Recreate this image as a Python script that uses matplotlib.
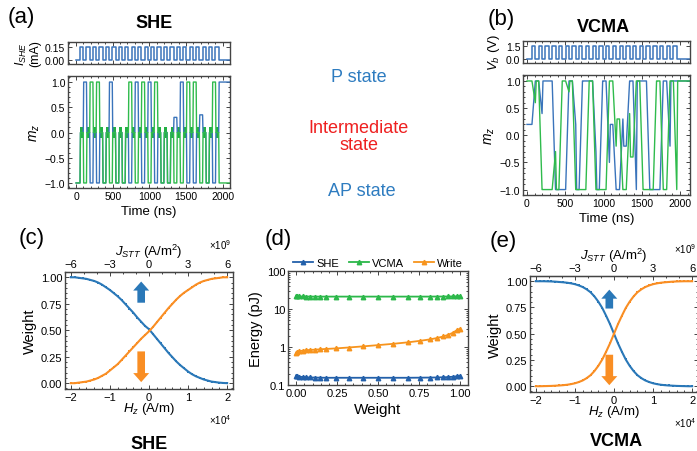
import numpy as np
import matplotlib.pyplot as plt
from matplotlib.patches import FancyArrowPatch
from matplotlib.ticker import AutoMinorLocator, LogLocator, NullFormatter

plt.rcParams['font.family'] = ['Liberation Sans', 'DejaVu Sans']
plt.rcParams['mathtext.fontset'] = 'custom'
plt.rcParams['mathtext.rm'] = 'Liberation Sans'
plt.rcParams['mathtext.it'] = 'Liberation Sans:italic'
plt.rcParams['mathtext.bf'] = 'Liberation Sans:bold'

# ---- (a) SHE pulse train and m_z traces ----
she_pulse_start = 54
she_pulse_period = 88
she_pulse_width = 44
she_pulse_amp = 0.15
she_pulse_count = 22
she_start_blue = -1.0
she_start_green = -1.0
# relaxed m_z after each pulse (during the pulse both sit near 0)
she_blue_after = [1, -1, -1, -1, 1, -1, -1, -1, 1, -1, 1, -1, -1, -1, 0.3, 1, -1, -1, 0.35,
                  -1, -1, 1]
she_green_after = [-1, 1, 1, -1, -1, -1, -1, 1, -1, 1, -1, 1, -1, -1, -1, -1, 1, 1, -1, -1,
                   1, -1]

# ---- (b) VCMA pulse train and m_z traces ----
vcma_pulse_start = 65
vcma_pulse_period = 88
vcma_pulse_width = 44
vcma_pulse_amp = 1.5
vcma_pulse_count = 22
vcma_start_blue = 0.2
vcma_start_green = 1.0
# m_z at the end of each pulse, then after relaxation
vcma_blue_on = [1, 0.4, 1, -1, -1, 1, 0.2, 1, 1, -0.3, 1, -0.5, -1, 0.3, 1, -1, 1, -1, -1, 1,
                -0.2, 1]
vcma_blue_off = [1, 1, 1, -1, -1, 1, -1, 1, 1, -1, 1, 0.2, -1, -0.2, 1, 1, 1, -1, -1, 1, 1, 1]
vcma_green_on = [0.6, -1, -1, -0.3, 1, 0.8, -1, -1, 1, -1, -1, 1, -0.2, -1, 0.4, 1, -1, -1, 1,
                 -1, 1, -1]
vcma_green_off = [1, -1, -1, -1, 1, 1, -1, -1, 1, -1, -1, 1, 0.3, -1, -0.4, 1, -1, -1, 1, -1,
                  1, 1]

# ---- (c)/(e) weight vs field ----
hz = [-2.0, -1.9, -1.8, -1.7, -1.6, -1.5, -1.4, -1.3, -1.2, -1.1, -1.0, -0.9, -0.8, -0.7,
      -0.6, -0.5, -0.4, -0.3, -0.2, -0.1, 0.0, 0.1, 0.2, 0.3, 0.4, 0.5, 0.6, 0.7, 0.8,
      0.9, 1.0, 1.1, 1.2, 1.3, 1.4, 1.5, 1.6, 1.7, 1.8, 1.9, 2.0]
she_w_up = [1.0, 1.0, 0.995, 0.99, 0.985, 0.975, 0.965, 0.95, 0.93, 0.905, 0.88, 0.85, 0.82,
            0.785, 0.745, 0.705, 0.665, 0.62, 0.58, 0.54, 0.51, 0.465, 0.42, 0.375, 0.33,
            0.285, 0.245, 0.205, 0.17, 0.14, 0.11, 0.085, 0.065, 0.05, 0.035, 0.025, 0.015,
            0.01, 0.005, 0.002, 0.0]
she_w_down = [0.0, 0.0, 0.005, 0.01, 0.015, 0.025, 0.035, 0.05, 0.07, 0.09, 0.12, 0.15, 0.18,
              0.22, 0.26, 0.30, 0.34, 0.38, 0.42, 0.455, 0.49, 0.53, 0.575, 0.62, 0.665, 0.71,
              0.75, 0.79, 0.825, 0.855, 0.88, 0.905, 0.93, 0.95, 0.965, 0.975, 0.985, 0.99,
              0.995, 1.0, 1.0]
vcma_w_up = [1.0, 1.0, 1.0, 0.999, 0.998, 0.996, 0.993, 0.99, 0.986, 0.98, 0.972, 0.96, 0.945,
             0.923, 0.895, 0.855, 0.805, 0.745, 0.67, 0.59, 0.5, 0.41, 0.33, 0.255, 0.195,
             0.145, 0.105, 0.077, 0.055, 0.04, 0.028, 0.02, 0.014, 0.01, 0.007, 0.005, 0.003,
             0.002, 0.001, 0.0, 0.0]
vcma_w_down = [0.0, 0.0, 0.001, 0.002, 0.003, 0.005, 0.007, 0.01, 0.014, 0.02, 0.028, 0.04,
               0.055, 0.077, 0.105, 0.145, 0.195, 0.255, 0.33, 0.41, 0.5, 0.59, 0.67, 0.745,
               0.805, 0.855, 0.895, 0.923, 0.945, 0.96, 0.972, 0.98, 0.986, 0.99, 0.993,
               0.996, 0.998, 0.999, 1.0, 1.0, 1.0]
jstt_ticks = [-6, -3, 0, 3, 6]
hz_ticks = [-2, -1, 0, 1, 2]

# ---- (d) energy vs weight ----
weight = [0.0, 0.005, 0.02, 0.04, 0.06, 0.085, 0.115, 0.145, 0.185, 0.245, 0.32, 0.41, 0.50,
          0.59, 0.685, 0.755, 0.815, 0.86, 0.90, 0.93, 0.96, 0.98, 1.0]
energy_she = [0.175, 0.17, 0.165, 0.162, 0.16, 0.158, 0.157, 0.156, 0.155, 0.155, 0.155, 0.155,
              0.155, 0.155, 0.155, 0.156, 0.157, 0.158, 0.16, 0.162, 0.165, 0.17, 0.175]
energy_vcma = [21.8, 21.6, 21.5, 21.4, 21.3, 21.3, 21.2, 21.2, 21.2, 21.2, 21.2, 21.2, 21.2,
               21.2, 21.2, 21.2, 21.2, 21.3, 21.3, 21.4, 21.5, 21.6, 21.8]
energy_write = [0.68, 0.74, 0.78, 0.80, 0.82, 0.84, 0.85, 0.87, 0.89, 0.92, 0.97, 1.04, 1.12,
                1.21, 1.33, 1.45, 1.58, 1.72, 1.9, 2.1, 2.4, 2.75, 3.0]

BLUE = '#3a74bb'
GREEN = '#2fbb4c'
C_UP = '#2a78b8'
C_DOWN = '#f98e24'
SPINE = '#444444'

W, H = 697, 452
fig = plt.figure(figsize=(W / 100, H / 100), dpi=100)


def add_ax(l, t, r, b):
    return fig.add_axes([l / W, 1 - b / H, (r - l) / W, (b - t) / H])


def style(ax, size=7.5, top=True):
    ax.tick_params(which='both', direction='in', top=top, right=True, labelsize=size,
                   width=0.7, color=SPINE, pad=2)
    ax.tick_params(which='major', length=3)
    ax.tick_params(which='minor', length=1.6)
    for s in ax.spines.values():
        s.set_color(SPINE)
        s.set_linewidth(1.0)


def pulse_train(start, period, width, amp, count, t_end):
    t, v = [0.0], [0.0]
    for k in range(count):
        s = start + k * period
        t += [s, s, s + width, s + width]
        v += [0.0, amp, amp, 0.0]
    t.append(t_end)
    v.append(0.0)
    return t, v


def she_trace(first, after, start, period, width, t_end, ramp=6):
    t, v = [0.0], [first]
    prev = first
    for k, a in enumerate(after):
        s = start + k * period
        e = s + width
        t += [s, s + ramp, e, e + ramp]
        v += [prev, 0.0, 0.0, a]
        prev = a
    t.append(t_end)
    v.append(prev)
    return t, v


def vcma_trace(first, on, off, start, period, width, t_end, ramp=12):
    t, v = [0.0], [first]
    prev = first
    for k, (a, b) in enumerate(zip(on, off)):
        s = start + k * period
        e = s + width
        t += [s, e, e + ramp]
        v += [prev, a, b]
        prev = b
    t.append(t_end)
    v.append(prev)
    return t, v


# ================= (a) =================
ax_at = add_ax(68, 43, 230, 65)
ax_a = add_ax(68, 77, 230, 189)
tp, vp = pulse_train(she_pulse_start, she_pulse_period, she_pulse_width, she_pulse_amp,
                     she_pulse_count, 2100)
ax_at.plot(tp, vp, color=BLUE, lw=1.1)
ax_at.set_xlim(-110, 2100)
ax_at.set_ylim(-0.046, 0.208)
ax_at.set_yticks([0.0, 0.15])
ax_at.set_yticklabels(['0.00', '0.15'])
ax_at.set_xticks([0, 500, 1000, 1500, 2000])
ax_at.set_xticklabels([])
ax_at.xaxis.set_minor_locator(AutoMinorLocator(5))
style(ax_at)
ax_at.set_ylabel('$I_{SHE}$\n(mA)', fontsize=9, labelpad=3, linespacing=0.95)

tb, vb = she_trace(she_start_blue, she_blue_after, she_pulse_start, she_pulse_period,
                   she_pulse_width, 2100)
tg, vg = she_trace(she_start_green, she_green_after, she_pulse_start, she_pulse_period,
                   she_pulse_width, 2100)
ax_a.plot(tb, vb, color=BLUE, lw=1.0)
ax_a.plot(tg, vg, color=GREEN, lw=1.0)
for k in range(she_pulse_count):
    s = she_pulse_start + k * she_pulse_period
    ax_a.fill_between([s + 4, s + she_pulse_width], -0.1, 0.1, color='#22b043', lw=0)
ax_a.set_xlim(-110, 2100)
ax_a.set_ylim(-1.1, 1.12)
ax_a.set_xticks([0, 500, 1000, 1500, 2000])
ax_a.set_yticks([-1.0, -0.5, 0.0, 0.5, 1.0])
ax_a.xaxis.set_minor_locator(AutoMinorLocator(5))
ax_a.yaxis.set_minor_locator(AutoMinorLocator(5))
style(ax_a)
ax_a.set_ylabel('$m_z$', fontsize=10, labelpad=2)
ax_a.set_xlabel('Time (ns)', fontsize=9.5, labelpad=3)

fig.text(21 / W, 1 - 17 / H, '(a)', fontsize=16, ha='center', va='center')
fig.text(154 / W, 1 - 24 / H, 'SHE', fontsize=13, fontweight='bold', ha='center', va='center')

# ================= (b) =================
ax_bt = add_ax(523, 42, 690, 64)
ax_b = add_ax(523, 76, 690, 196)
tp, vp = pulse_train(vcma_pulse_start, vcma_pulse_period, vcma_pulse_width, vcma_pulse_amp,
                     vcma_pulse_count, 2150)
ax_bt.plot(tp, vp, color=BLUE, lw=1.1)
ax_bt.set_xlim(-52, 2130)
ax_bt.set_ylim(-0.45, 2.1)
ax_bt.set_yticks([0.0, 1.5])
ax_bt.set_xticks([0, 500, 1000, 1500, 2000])
ax_bt.set_xticklabels([])
ax_bt.xaxis.set_minor_locator(AutoMinorLocator(5))
style(ax_bt)
ax_bt.set_ylabel('$V_b$ (V)', fontsize=9.5, labelpad=3)

tb, vb = vcma_trace(vcma_start_blue, vcma_blue_on, vcma_blue_off, vcma_pulse_start,
                    vcma_pulse_period, vcma_pulse_width, 2150)
tg, vg = vcma_trace(vcma_start_green, vcma_green_on, vcma_green_off, vcma_pulse_start,
                    vcma_pulse_period, vcma_pulse_width, 2150)
ax_b.plot(tb, vb, color=BLUE, lw=1.0)
ax_b.plot(tg, vg, color=GREEN, lw=1.0)
ax_b.set_xlim(-52, 2130)
ax_b.set_ylim(-1.1, 1.11)
ax_b.set_xticks([0, 500, 1000, 1500, 2000])
ax_b.set_yticks([-1.0, -0.5, 0.0, 0.5, 1.0])
ax_b.xaxis.set_minor_locator(AutoMinorLocator(5))
ax_b.yaxis.set_minor_locator(AutoMinorLocator(5))
style(ax_b)
ax_b.set_ylabel('$m_z$', fontsize=10, labelpad=2)
ax_b.set_xlabel('Time (ns)', fontsize=9.5, labelpad=3)

fig.text(501 / W, 1 - 19 / H, '(b)', fontsize=16, ha='center', va='center')
fig.text(603 / W, 1 - 27 / H, 'VCMA', fontsize=13, fontweight='bold', ha='center', va='center')

# state labels between (a) and (b)
fig.text(359 / W, 1 - 78 / H, 'P state', fontsize=13, color='#2e7cc0', ha='center', va='center')
fig.text(359 / W, 1 - 137 / H, 'Intermediate\nstate', fontsize=13, color='#ee2020',
         ha='center', va='center', linespacing=1.05)
fig.text(362 / W, 1 - 192 / H, 'AP state', fontsize=13, color='#2e7cc0', ha='center', va='center')


# ================= (c) and (e) =================
def weight_panel(ax, w_up, w_down, arrow_x, up_span, down_span):
    ax.plot(hz, w_up, color=C_UP, lw=1.5, marker='s', ms=1.8, mew=0)
    ax.plot(hz, w_down, color=C_DOWN, lw=1.5, marker='s', ms=1.8, mew=0)
    ax.set_xlim(-2.15, 2.15)
    ax.set_ylim(-0.055, 1.05)
    ax.set_xticks(hz_ticks)
    ax.set_yticks([0.0, 0.25, 0.5, 0.75, 1.0])
    ax.set_yticklabels(['0.00', '0.25', '0.50', '0.75', '1.00'])
    ax.xaxis.set_minor_locator(AutoMinorLocator(5))
    ax.yaxis.set_minor_locator(AutoMinorLocator(5))
    style(ax, size=8, top=False)
    ax.set_ylabel('Weight', fontsize=10.5, labelpad=3)
    ax.set_xlabel('$H_z$ (A/m)', fontsize=9.5, labelpad=-1)
    sec = ax.secondary_xaxis('top', functions=(lambda h: np.asarray(h) * 3,
                                               lambda j: np.asarray(j) / 3))
    sec.set_xticks(jstt_ticks)
    sec.xaxis.set_minor_locator(AutoMinorLocator(3))
    sec.tick_params(which='both', direction='in', labelsize=8, width=0.7, color=SPINE, pad=2)
    sec.tick_params(which='major', length=3)
    sec.tick_params(which='minor', length=1.6)
    sec.set_xlabel('$J_{STT}$ (A/m$^2$)', fontsize=9.5, labelpad=3)
    ax.text(0.99, 1.18, r'$\times 10^9$', transform=ax.transAxes, fontsize=7, ha='right',
            va='bottom')
    ax.text(0.99, -0.2, r'$\times 10^4$', transform=ax.transAxes, fontsize=7, ha='right',
            va='top')
    for (y0, y1), c in ((up_span, C_UP), (down_span, C_DOWN)):
        ax.add_patch(FancyArrowPatch((arrow_x, y0), (arrow_x, y1), color=c, lw=0,
                                     arrowstyle='simple,head_length=0.65,head_width=1.15,tail_width=0.55',
                                     mutation_scale=10, shrinkA=0, shrinkB=0))


ax_c = add_ax(65, 273, 233, 390)
weight_panel(ax_c, she_w_up, she_w_down, -0.2, (0.76, 0.96), (0.30, 0.01))
fig.text(32 / W, 1 - 239 / H, '(c)', fontsize=16, ha='center', va='center')
fig.text(149 / W, 1 - 445 / H, 'SHE', fontsize=13, fontweight='bold', ha='center', va='center')

ax_e = add_ax(530, 277, 698, 393)
weight_panel(ax_e, vcma_w_up, vcma_w_down, -0.12, (0.74, 0.92), (0.30, 0.01))
fig.text(503 / W, 1 - 242 / H, '(e)', fontsize=16, ha='center', va='center')
fig.text(616 / W, 1 - 442 / H, 'VCMA', fontsize=13, fontweight='bold', ha='center', va='center')

# ================= (d) =================
ax_d = add_ax(288, 272, 468, 386)
ax_d.plot(weight, energy_she, color='#2360aa', lw=1.3, marker='^', ms=3.2, label='SHE')
ax_d.plot(weight, energy_vcma, color='#2cb84a', lw=1.3, marker='^', ms=3.2, label='VCMA')
ax_d.plot(weight, energy_write, color='#f7941d', lw=1.3, marker='^', ms=3.2, label='Write')
ax_d.set_yscale('log')
ax_d.set_ylim(0.1, 100)
ax_d.set_xlim(-0.05, 1.05)
ax_d.set_xticks([0.0, 0.25, 0.5, 0.75, 1.0])
ax_d.set_xticklabels(['0.00', '0.25', '0.50', '0.75', '1.00'])
ax_d.set_yticks([0.1, 1, 10, 100])
ax_d.set_yticklabels(['0.1', '1', '10', '100'])
ax_d.yaxis.set_minor_locator(LogLocator(base=10, subs=np.arange(2, 10)))
ax_d.yaxis.set_minor_formatter(NullFormatter())
ax_d.xaxis.set_minor_locator(AutoMinorLocator(5))
style(ax_d, size=8)
ax_d.set_ylabel('Energy (pJ)', fontsize=10.5, labelpad=3)
ax_d.set_xlabel('Weight', fontsize=11, labelpad=3)
ax_d.legend(loc='lower center', bbox_to_anchor=(0.5, 1.02), ncol=3, frameon=False,
            fontsize=8, handlelength=1.8, handletextpad=0.3, columnspacing=0.9,
            borderaxespad=0, borderpad=0.1)
fig.text(278 / W, 1 - 240 / H, '(d)', fontsize=16, ha='center', va='center')

fig.savefig('out.png', dpi=100)
